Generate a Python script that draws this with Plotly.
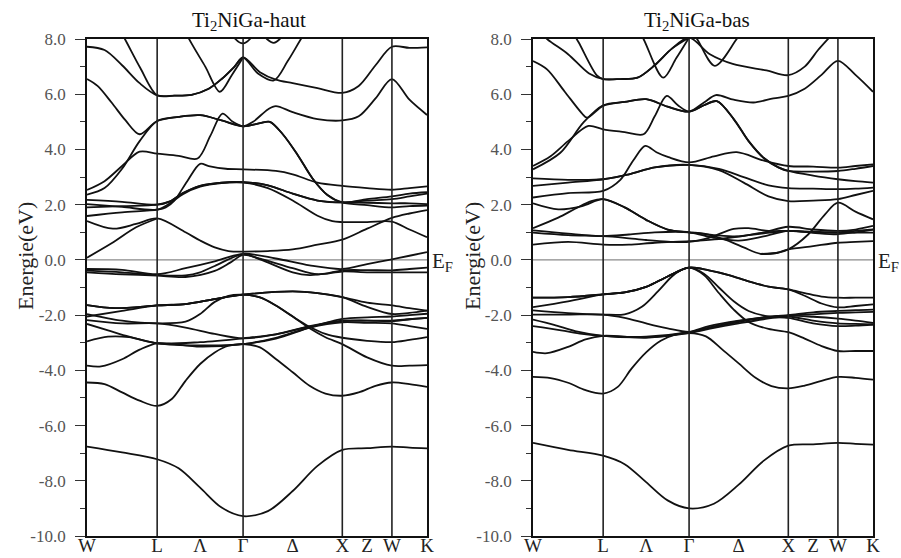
import numpy as np
import plotly.graph_objects as go

# ---------------- data ----------------
# k-path W-L-Gamma-X-W-K, cumulative distance in units of 2*pi/a
K_NODES = [0.0, 0.7071, 1.5731, 2.5731, 3.0731, 3.4267]
# tick positions in "segment units" (0=W,1=L,2=Gamma,3=X,4=W,5=K)
TICK_POS = [0, 1, 1.5, 2, 2.5, 3, 3.5, 4, 5]
TICK_TEXT = ["W", "L", "Λ", "Γ", "Δ", "X", "Z", "W", "K"]
VLINE_POS = [1, 2, 3, 4]
Y_TICKS = [-10, -8, -6, -4, -2, 0, 2, 4, 6, 8]
Y_TICK_TEXT = ["-10.0", "-8.0", "-6.0", "-4.0", "-2.0", "0.0", "2.0", "4.0", "6.0", "8.0"]
TITLES = ["Ti<sub>2</sub>NiGa-haut", "Ti<sub>2</sub>NiGa-bas"]

# bands: list of (s, E[eV]) points, s in segment units
HAUT_BANDS = [
    [(0,-6.76),(0.5,-6.97),(1,-7.22),(1.25,-7.55),(1.5,-8.25),(1.75,-8.97),(2,-9.28),(2.25,-9.1),(2.5,-8.37),(2.75,-7.46),(3,-6.88),(3.5,-6.82),(4,-6.76),(4.5,-6.8),(5,-6.83)],
    [(0,-4.44),(0.25,-4.5),(0.5,-4.8),(0.75,-5.1),(1,-5.29),(1.17,-5.04),(1.33,-4.38),(1.5,-3.77),(1.67,-3.35),(1.83,-3.11),(2,-3.05),(2.17,-3.17),(2.33,-3.59),(2.5,-4.07),(2.67,-4.56),(2.83,-4.84),(3,-4.92),(3.33,-4.8),(3.67,-4.56),(4,-4.44),(4.5,-4.5),(5,-4.6)],
    [(0,-3.83),(0.2,-3.86),(0.5,-3.6),(0.75,-3.25),(1,-3.02),(1.5,-3.14),(2,-3.05),(2.33,-2.85),(2.67,-2.45),(3,-2.14),(3.5,-2.08),(4,-2.05),(4.5,-2.0),(5,-1.95)],
    [(0,-2.95),(0.3,-2.78),(0.6,-2.8),(1,-3.02),(1.5,-2.98),(2,-2.84),(2.33,-2.7),(2.67,-2.42),(3,-2.22),(3.5,-2.2),(4,-2.2),(4.5,-2.15),(5,-2.1)],
    [(0,-2.32),(0.3,-2.55),(0.6,-2.78),(1,-3.02),(1.5,-3.1),(2,-3.05),(2.33,-2.82),(2.67,-2.45),(3,-2.26),(3.5,-2.28),(4,-2.3),(4.5,-2.4),(5,-2.5)],
    [(0,-2.05),(0.5,-1.85),(1,-1.65),(1.33,-1.6),(1.67,-1.42),(2,-1.26),(2.5,-1.14),(2.75,-1.2),(3,-1.35),(3.5,-1.7),(4,-1.96),(4.5,-1.92),(5,-1.84)],
    [(0,-1.96),(0.5,-2.2),(1,-2.3),(1.33,-2.24),(1.5,-1.96),(1.67,-1.52),(1.83,-1.3),(2,-1.26),(2.17,-1.36),(2.33,-1.65),(2.5,-2.05),(2.67,-2.42),(2.83,-2.68),(3,-2.82),(3.5,-2.93),(4,-2.98),(4.5,-2.9),(5,-2.8)],
    [(0,-2.18),(0.5,-2.3),(1,-2.3),(1.33,-2.45),(1.67,-2.68),(2,-2.84),(2.33,-2.7),(2.67,-2.4),(3,-2.2),(3.5,-2.2),(4,-2.22),(4.5,-2.15),(5,-2.1)],
    [(0,-1.64),(0.4,-1.75),(1,-1.65),(1.33,-1.6),(1.67,-1.42),(2,-1.26),(2.5,-1.14),(2.75,-1.2),(3,-1.35),(3.5,-1.55),(4,-1.65),(4.5,-1.75),(5,-1.84)],
    [(0,-1.64),(0.4,-1.75),(1,-1.65),(1.33,-1.6),(1.67,-1.42),(2,-1.26),(2.17,-1.36),(2.33,-1.65),(2.5,-2.05),(2.67,-2.48),(2.83,-2.8),(3,-3.05),(3.5,-3.53),(4,-3.83),(4.5,-3.83),(5,-3.81)],
    [(0,-0.33),(0.5,-0.36),(1,-0.52),(1.33,-0.3),(1.67,-0.05),(2,0.22),(2.33,0.05),(2.67,-0.2),(3,-0.33),(3.5,-0.15),(4,0.02),(4.5,0.15),(5,0.28)],
    [(0,-0.39),(0.5,-0.45),(1,-0.55),(1.33,-0.56),(1.5,-0.45),(1.67,-0.22),(2,0.2),(2.17,0.02),(2.5,-0.45),(2.67,-0.55),(2.83,-0.5),(3,-0.38),(3.5,-0.37),(4,-0.38),(4.5,-0.33),(5,-0.28)],
    [(0,-0.45),(0.5,-0.52),(1,-0.57),(1.33,-0.62),(1.67,-0.4),(1.85,-0.1),(2,0.18),(2.17,0.05),(2.5,-0.3),(2.75,-0.52),(3,-0.42),(3.5,-0.45),(4,-0.45),(4.5,-0.45),(5,-0.45)],
    [(0,1.41),(0.37,1.13),(0.7,1.3),(1,1.5),(1.33,1.0),(1.5,0.7),(1.67,0.45),(1.83,0.32),(2,0.3),(2.25,0.32),(2.5,0.38),(2.75,0.55),(3,0.73),(3.5,1.13),(4,1.52),(4.5,1.68),(5,1.8)],
    [(0,0.08),(0.35,0.6),(0.7,1.18),(1,1.5)],
    [(0,1.59),(0.5,1.72),(1,1.82),(1.1,1.9),(1.2,2.15),(1.35,2.85),(1.5,3.48),(1.6,3.4),(1.8,3.3),(2,3.28),(2.33,3.22),(2.5,3.1),(2.75,2.8),(3,2.68),(3.5,2.6),(4,2.54),(4.5,2.6),(5,2.66)],
    [(0,2.02),(0.5,1.92),(1,1.82),(1.15,2.05),(1.3,2.38),(1.5,2.65),(1.75,2.78),(2,2.8),(2.25,2.6),(2.5,2.15),(2.75,1.6),(2.9,1.4),(3,1.37),(3.5,1.37),(4,1.39),(4.5,1.1),(5,0.82)],
    [(0,1.9),(0.5,1.95),(1,2.0),(1.15,2.12),(1.3,2.42),(1.5,2.68),(1.75,2.8),(2,2.82),(2.25,2.7),(2.5,2.4),(2.75,2.15),(3,2.08),(3.5,2.15),(4,2.2),(4.5,2.3),(5,2.4)],
    [(0,2.17),(0.5,2.1),(1,2.0),(1.15,2.12),(1.3,2.42),(1.5,2.68),(1.75,2.8),(2,2.82),(2.25,2.7),(2.5,2.4),(2.75,2.15),(3,2.08),(3.5,2.07),(4,2.05),(4.5,2.05),(5,2.02)],
    [(0,2.36),(0.25,2.6),(0.5,3.3),(0.75,4.3),(1,5.03),(1.25,5.18),(1.5,5.24),(1.75,5.05),(2,4.84),(2.17,4.95),(2.27,5.0),(2.4,4.55),(2.55,3.8),(2.7,2.95),(2.85,2.35),(3,2.08),(3.5,1.98),(4,1.9),(4.5,1.95),(5,1.97)],
    [(0,6.55),(0.15,6.3),(0.35,5.7),(0.55,5.05),(0.75,4.55),(1,5.03),(1.25,5.18),(1.5,5.24),(1.75,5.05),(2,4.84),(2.1,5.0),(2.25,5.45),(2.33,5.57),(2.5,5.35),(2.75,5.1),(3,5.05),(3.33,5.2),(3.67,5.85),(4,6.55),(4.5,5.8),(5,5.25)],
    [(0,2.53),(0.25,2.85),(0.5,3.4),(0.75,3.92),(1,3.85),(1.25,3.77),(1.47,3.67),(1.62,4.5),(1.76,5.3),(1.88,5.0),(2,4.84),(2.17,4.95),(2.27,5.0),(2.4,4.55),(2.55,3.8),(2.7,2.95),(2.85,2.35),(3,2.08),(3.5,2.2),(4,2.3),(4.5,2.4),(5,2.45)],
    [(0,7.72),(0.25,7.6),(0.5,7.05),(0.75,6.4),(1,5.96),(1.2,5.95),(1.4,5.98),(1.6,6.2),(1.75,6.55),(1.9,7.0),(2,7.33),(2.17,6.8),(2.33,6.53),(2.5,6.4),(2.75,6.22),(3,6.05),(3.33,6.3),(3.67,7.05),(4,7.72),(4.5,7.68),(5,7.7)],
    [(0.3,9.1),(0.54,8.0),(0.76,6.95),(1,5.96),(1.2,5.95),(1.4,5.98),(1.6,6.2),(1.75,6.55),(1.9,7.0),(2,7.33),(2.15,6.75),(2.31,6.5),(2.45,7.2),(2.6,8.1),(2.8,9.2)],
    [(1.2,9.0),(1.4,7.84),(1.56,7.0),(1.73,6.09),(1.87,6.7),(2,7.33)],
    [(1.85,8.4),(1.91,8.0),(2,7.84),(2.07,8.0),(2.13,8.4)],
    [(2.18,8.3),(2.24,8.0),(2.31,7.86),(2.37,8.0),(2.43,8.3)],
]

BAS_BANDS = [
    [(0,-6.63),(0.5,-6.88),(1,-7.09),(1.25,-7.4),(1.5,-8.05),(1.75,-8.71),(2,-9.0),(2.25,-8.83),(2.5,-8.14),(2.75,-7.28),(3,-6.73),(3.5,-6.68),(4,-6.63),(4.5,-6.66),(5,-6.69)],
    [(0,-4.24),(0.25,-4.28),(0.5,-4.45),(0.75,-4.72),(1,-4.84),(1.17,-4.6),(1.33,-3.94),(1.5,-3.35),(1.67,-2.93),(1.83,-2.72),(2,-2.65),(2.17,-2.77),(2.33,-3.23),(2.5,-3.75),(2.67,-4.27),(2.83,-4.57),(3,-4.65),(3.33,-4.55),(3.67,-4.38),(4,-4.24),(4.5,-4.27),(5,-4.34)],
    [(0,-3.33),(0.2,-3.38),(0.5,-3.15),(0.75,-2.88),(1,-2.75),(1.5,-2.82),(2,-2.62),(2.2,-2.4),(2.5,-2.2),(2.75,-2.08),(3,-2.02),(3.5,-1.97),(4,-1.92),(4.5,-1.9),(5,-1.88)],
    [(0,-2.4),(0.4,-2.55),(0.7,-2.68),(1,-2.75),(1.5,-2.78),(2,-2.62),(2.2,-2.45),(2.5,-2.25),(2.75,-2.1),(3,-2.02),(3.5,-2.06),(4,-2.13),(4.5,-2.2),(5,-2.28)],
    [(0,-2.16),(0.3,-2.35),(0.6,-2.58),(1,-2.75),(1.5,-2.8),(2,-2.65),(2.2,-2.5),(2.5,-2.3),(2.75,-2.15),(3,-2.05),(3.5,-2.2),(4,-2.3),(4.5,-2.32),(5,-2.34)],
    [(0,-1.71),(0.5,-1.5),(1,-1.25),(1.25,-1.18),(1.5,-0.98),(1.75,-0.6),(2,-0.28),(2.2,-0.38),(2.4,-0.55),(2.6,-0.78),(2.8,-0.97),(3,-1.07),(3.33,-1.3),(3.67,-1.58),(4,-1.72),(4.5,-1.67),(5,-1.61)],
    [(0,-1.83),(0.5,-1.93),(1,-1.98),(1.25,-1.97),(1.45,-1.7),(1.64,-1.13),(1.8,-0.6),(1.9,-0.38),(2,-0.28),(2.15,-0.5),(2.3,-1.0),(2.45,-1.5),(2.6,-1.85),(2.8,-2.05),(3,-2.1),(3.5,-2.3),(4,-2.4),(4.5,-2.38),(5,-2.34)],
    [(0,-1.98),(0.5,-1.98),(1,-1.98),(1.25,-2.1),(1.5,-2.3),(1.75,-2.48),(2,-2.61),(2.25,-2.42),(2.5,-2.22),(2.75,-2.08),(3,-2.0),(3.5,-1.9),(4,-1.85),(4.5,-1.82),(5,-1.8)],
    [(0,-1.37),(0.5,-1.35),(1,-1.25),(1.25,-1.18),(1.5,-0.98),(1.75,-0.6),(2,-0.28),(2.2,-0.38),(2.4,-0.55),(2.6,-0.78),(2.8,-0.97),(3,-1.07),(3.33,-1.2),(3.67,-1.33),(4,-1.37),(4.5,-1.37),(5,-1.37)],
    [(0,-1.37),(0.5,-1.35),(1,-1.25),(1.25,-1.18),(1.5,-0.98),(1.75,-0.6),(2,-0.28),(2.15,-0.55),(2.3,-1.2),(2.45,-1.8),(2.6,-2.25),(2.8,-2.5),(3,-2.62),(3.33,-2.85),(3.67,-3.12),(4,-3.3),(4.5,-3.3),(5,-3.3)],
    [(0,2.05),(0.36,1.83),(0.7,1.95),(1,2.2),(1.25,1.9),(1.5,1.45),(1.75,1.1),(2,1.0),(2.15,0.95),(2.35,0.75),(2.55,0.45),(2.72,0.22),(2.88,0.25),(3,0.38),(3.5,0.5),(4,0.62),(4.5,0.65),(5,0.68)],
    [(2.72,0.22),(2.88,0.25),(3,0.38),(3.4,0.92),(3.74,1.65),(4,2.07),(4.5,1.75),(5,1.47)],
    [(0,1.15),(0.36,1.53),(0.6,1.85),(0.83,2.13),(1,2.2),(1.25,1.9),(1.5,1.45),(1.75,1.1),(2,1.0),(2.25,0.9),(2.5,0.85),(2.75,1.0),(3,1.2),(3.5,1.1),(4,1.05),(4.5,1.1),(5,1.23)],
    [(0,0.99),(0.5,0.9),(1,0.86),(1.25,0.8),(1.5,0.72),(1.75,0.66),(2,0.65),(2.2,0.8),(2.45,1.12),(2.6,1.15),(2.8,1.05),(3,1.05),(3.5,1.0),(4,0.99),(4.5,0.99),(5,0.99)],
    [(0,1.07),(0.5,0.95),(1,0.86),(1.3,0.92),(1.6,1.0),(2,1.0),(2.25,0.8),(2.5,0.7),(2.75,0.85),(3,1.05),(3.5,0.98),(4,0.93),(4.5,1.0),(5,1.1)],
    [(0,0.55),(0.5,0.65),(1,0.55),(1.3,0.55),(1.6,0.62),(2,0.68),(2.3,0.75),(2.6,0.9),(2.85,1.0),(3,1.05),(3.5,1.02),(4,1.0),(4.5,1.05),(5,1.1)],
    [(0,2.26),(0.5,2.42),(1,2.5),(1.2,2.9),(1.35,3.6),(1.49,4.13),(1.62,3.9),(1.76,3.72),(2,3.53),(2.25,3.75),(2.48,3.9),(2.75,3.6),(3,3.4),(3.5,3.38),(4,3.34),(4.5,3.4),(5,3.46)],
    [(0,2.95),(0.5,2.9),(1,2.92),(1.3,3.1),(1.6,3.35),(2,3.44),(2.3,3.3),(2.55,3.0),(2.8,2.7),(3,2.6),(3.5,2.58),(4,2.56),(4.5,2.58),(5,2.62)],
    [(0,2.68),(0.5,2.8),(1,2.92),(1.3,3.1),(1.6,3.35),(2,3.44),(2.3,3.25),(2.55,2.8),(2.8,2.3),(3,2.13),(3.5,2.15),(4,2.2),(4.5,2.35),(5,2.5)],
    [(0,3.28),(0.39,3.88),(0.72,4.98),(1,5.6),(1.25,5.72),(1.5,5.82),(1.75,5.55),(2,5.37),(2.15,5.6),(2.28,5.75),(2.45,5.1),(2.6,4.3),(2.75,3.7),(2.9,3.35),(3,3.22),(3.5,3.2),(4,3.22),(4.5,3.3),(5,3.4)],
    [(0,3.4),(0.25,3.75),(0.5,4.3),(0.79,4.85),(1,4.73),(1.25,4.63),(1.47,4.55),(1.6,5.2),(1.74,5.94),(1.87,5.6),(2,5.37),(2.15,5.6),(2.28,5.75),(2.45,5.1),(2.6,4.3),(2.75,3.7),(2.9,3.35),(3,3.22),(3.5,3.05),(4,2.92),(4.5,2.85),(5,2.8)],
    [(0,7.2),(0.2,6.9),(0.45,6.1),(0.7,5.3),(0.77,5.15),(1,5.58),(1.25,5.72),(1.5,5.82),(1.75,5.55),(2,5.37),(2.15,5.7),(2.27,5.97),(2.45,5.8),(2.65,5.7),(2.85,5.85),(3,5.94),(3.33,6.2),(3.67,6.7),(4,7.21),(4.5,6.7),(5,6.09)],
    [(0,8.5),(0.2,8.0),(0.5,7.45),(0.8,6.75),(1,6.55),(1.2,6.55),(1.4,6.6),(1.6,7.05),(1.8,7.65),(2,8.05),(2.21,7.45),(2.44,7.1),(2.78,6.86),(3,6.69),(3.33,7.0),(3.6,7.6),(3.85,8.1),(4,8.4)],
    [(0.55,8.3),(0.65,7.88),(0.91,6.68),(1,6.55),(1.2,6.55),(1.4,6.6),(1.6,7.05),(1.8,7.65),(2,8.05)],
    [(1.95,8.6),(2.08,8.0),(2.26,7.03),(2.48,8.0),(2.6,8.6)],
    [(1.3,9.0),(1.47,8.0),(1.7,6.6),(1.85,7.3),(2,8.05)],
]

# ---------------- figure ----------------
SERIF = "Liberation Serif, Times New Roman, serif"


def to_k(s):
    return np.interp(s, np.arange(len(K_NODES)), K_NODES)


fig = go.Figure()
for idx, bands in enumerate([HAUT_BANDS, BAS_BANDS]):
    xa = "x" if idx == 0 else "x2"
    ya = "y" if idx == 0 else "y2"
    for band in bands:
        s = np.array([p[0] for p in band], dtype=float)
        e = np.array([p[1] for p in band], dtype=float)
        fig.add_trace(go.Scatter(
            x=to_k(s), y=e, mode="lines", xaxis=xa, yaxis=ya,
            line=dict(color="#111111", width=1.8, shape="spline", smoothing=0.9),
            hoverinfo="skip", showlegend=False))

    # high-symmetry vertical lines
    for v in VLINE_POS:
        kv = float(to_k(v))
        fig.add_shape(type="line", xref=xa, yref=ya, x0=kv, x1=kv,
                      y0=Y_TICKS[0], y1=Y_TICKS[-1],
                      line=dict(color="#222222", width=1.6), layer="above")
    # Fermi level
    fig.add_shape(type="line", xref=xa, yref=ya, x0=K_NODES[0], x1=K_NODES[-1],
                  y0=0, y1=0, line=dict(color="#8a8a8a", width=1.2), layer="below")
    # E_F label
    fig.add_annotation(text="E<sub>F</sub>", xref=xa, yref=ya, x=K_NODES[-1], y=0,
                       xanchor="left", yanchor="middle", xshift=3, yshift=-2,
                       showarrow=False, font=dict(family=SERIF, size=21, color="#222"))

common_x = dict(range=[K_NODES[0], K_NODES[-1]], tickvals=list(to_k(TICK_POS)),
                ticktext=TICK_TEXT, ticks="", showgrid=False, zeroline=False,
                showline=True, mirror=True, linecolor="#111", linewidth=1.8,
                automargin=False, ticklabelstandoff=-9,
                tickfont=dict(family=SERIF, size=19, color="#222"), fixedrange=True)
common_y = dict(range=[Y_TICKS[0], Y_TICKS[-1]], tickvals=Y_TICKS, ticktext=Y_TICK_TEXT,
                ticks="outside", ticklen=10, tickwidth=1.4, tickcolor="#333",
                minor=dict(ticks="outside", ticklen=5, dtick=1, tick0=0,
                           tickwidth=1.4, tickcolor="#333"),
                showgrid=False, zeroline=False, showline=True, mirror=True,
                linecolor="#111", linewidth=1.8, ticklabelstandoff=6,
                automargin=False,
                tickfont=dict(family=SERIF, size=17, color="#555"), fixedrange=True)

PLOT_L, PLOT_R, PLOT_T, PLOT_B = 87, 873, 39, 536
W_ALL = PLOT_R - PLOT_L
H_ALL = PLOT_B - PLOT_T


def px_x(px):
    return (px - PLOT_L) / W_ALL


def px_y(py):
    return (PLOT_B - py) / H_ALL


fig.update_layout(
    width=901, height=558,
    margin=dict(l=PLOT_L, r=901 - PLOT_R, t=PLOT_T, b=558 - PLOT_B, autoexpand=False),
    paper_bgcolor="white", plot_bgcolor="white",
    xaxis=dict(domain=[0, px_x(427)], anchor="y", **common_x),
    xaxis2=dict(domain=[px_x(533), 1], anchor="y2", **common_x),
    yaxis=dict(domain=[0, 1], anchor="x", **common_y),
    yaxis2=dict(domain=[0, 1], anchor="x2", **common_y),
    showlegend=False,
)

# titles
for title, cx in zip(TITLES, [249, 697]):
    fig.add_annotation(text=title, xref="paper", yref="paper", x=px_x(cx), y=px_y(21),
                       xanchor="center", yanchor="middle", showarrow=False,
                       font=dict(family=SERIF, size=21, color="#111"))
# y-axis labels
for cx in [25, 472]:
    fig.add_annotation(text="Energie(eV)", xref="paper", yref="paper", x=px_x(cx), y=px_y(256),
                       xanchor="center", yanchor="middle", textangle=-90, showarrow=False,
                       font=dict(family=SERIF, size=22, color="#222"))

fig.write_html("out.html")
